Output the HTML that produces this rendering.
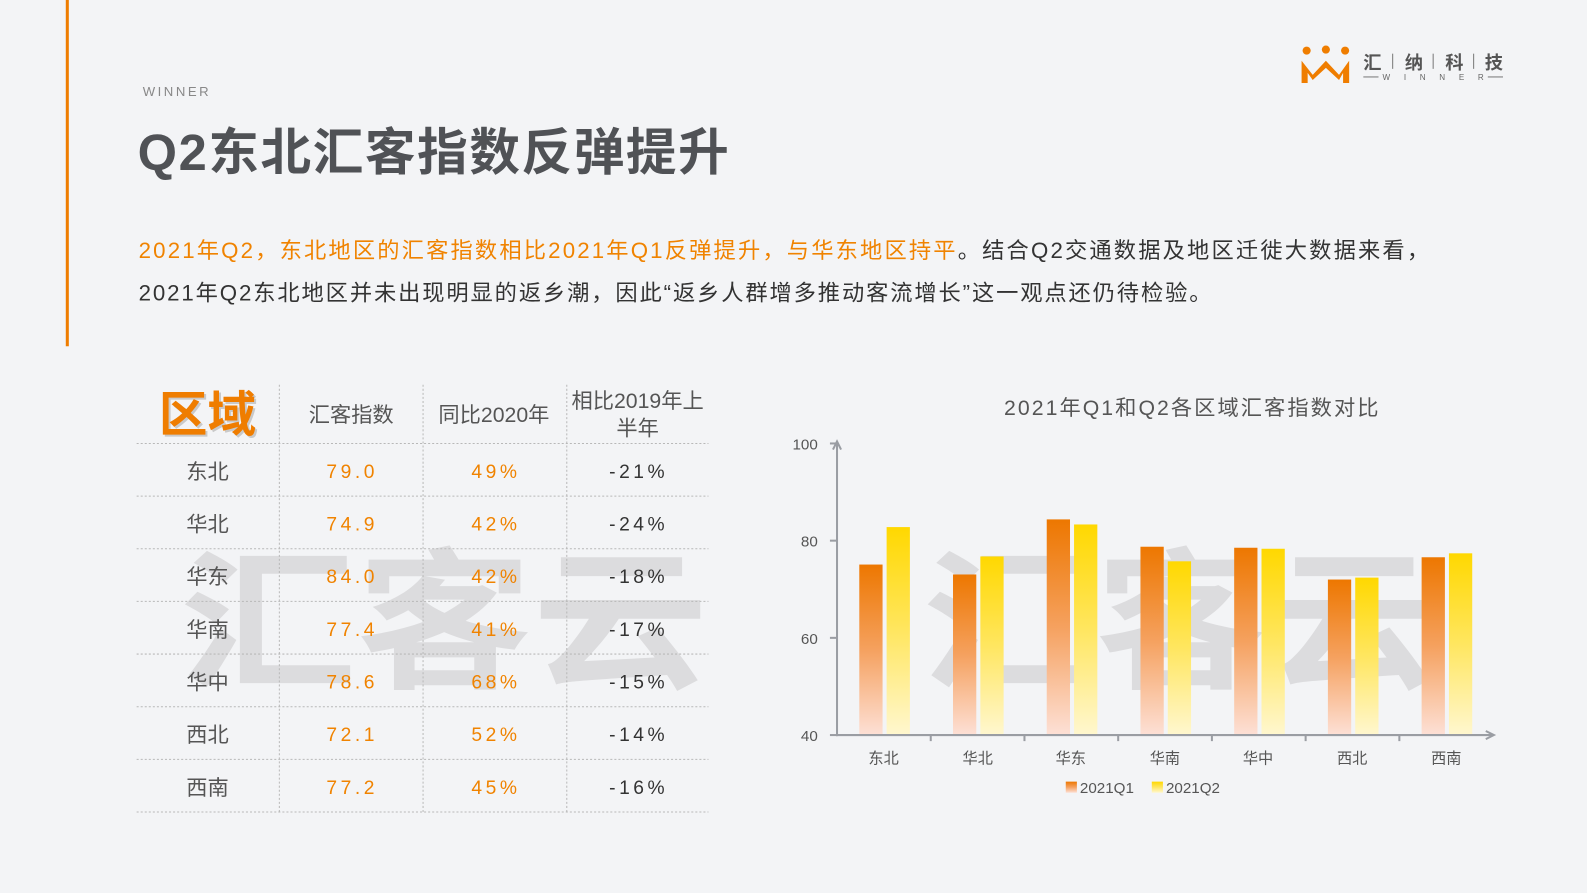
<!DOCTYPE html>
<html><head><meta charset="utf-8"><style>
html,body{margin:0;padding:0;background:#f3f4f6;}
svg{display:block}
text{font-family:"Liberation Sans","Noto Sans CJK SC",sans-serif;}
</style></head><body>
<svg width="1587" height="893" viewBox="0 0 1568 882" preserveAspectRatio="none" xmlns="http://www.w3.org/2000/svg">
<defs>
<linearGradient id="g1" x1="0" y1="0" x2="0" y2="1"><stop offset="0" stop-color="#ed7700"/><stop offset="0.5" stop-color="#f5a15f"/><stop offset="1" stop-color="#fde0d6"/></linearGradient>
<linearGradient id="g2" x1="0" y1="0" x2="0" y2="1"><stop offset="0" stop-color="#ffd800"/><stop offset="0.5" stop-color="#ffe660"/><stop offset="1" stop-color="#fff7cf"/></linearGradient>
</defs>
<rect width="1568" height="882" fill="#f3f4f6"/>
<rect x="65" y="0" width="3" height="342" fill="#ef7d00"/>
<text x="141" y="95" font-size="13" fill="#888" letter-spacing="2.5">WINNER</text>
<text x="136" y="168" font-size="50" font-weight="bold" fill="#505256" textLength="584" lengthAdjust="spacing">Q2东北汇客指数反弹提升</text>
<text x="137" y="255" font-size="22" fill="#f08300" textLength="1275" lengthAdjust="spacing">2021年Q2，东北地区的汇客指数相比2021年Q1反弹提升，与华东地区持平<tspan fill="#333">。结合Q2交通数据及地区迁徙大数据来看，</tspan></text>
<text x="137" y="297" font-size="22" fill="#333" textLength="1060" lengthAdjust="spacing">2021年Q2东北地区并未出现明显的返乡潮，因此“返乡人群增多推动客流增长”这一观点还仍待检验。</text>
<!-- logo -->
<g fill="#ef7d00">
<circle cx="1291" cy="50" r="4"/><circle cx="1310" cy="49" r="4"/><circle cx="1329" cy="50" r="4"/>
<path d="M1286 82 V60 L1297 74 L1310 60 L1323 74 L1333 60 V82 H1327 V72 L1323 79 L1310 67 L1297 79 L1292 72 V82 Z"/>
</g>
<text x="1347" y="68" font-size="18" font-weight="bold" fill="#555">汇</text>
<text x="1388" y="68" font-size="18" font-weight="bold" fill="#555">纳</text>
<text x="1428" y="68" font-size="18" font-weight="bold" fill="#555">科</text>
<text x="1467" y="68" font-size="18" font-weight="bold" fill="#555">技</text>
<g stroke="#777" stroke-width="1"><line x1="1376" y1="53" x2="1376" y2="68"/><line x1="1416" y1="53" x2="1416" y2="68"/><line x1="1456" y1="53" x2="1456" y2="68"/>
<line x1="1347" y1="76" x2="1362" y2="76"/><line x1="1470" y1="76" x2="1485" y2="76"/></g>
<text x="1366" y="79" font-size="8" fill="#666" textLength="100" lengthAdjust="spacing">W I N N E R</text>
<!-- watermarks -->
<g fill="#dcdcde" font-weight="bold" font-size="150">
<text x="178" y="668" textLength="522" lengthAdjust="spacingAndGlyphs">汇客云</text>
<text x="912" y="668" textLength="510" lengthAdjust="spacingAndGlyphs">汇客云</text>
</g>
<!-- table -->
<g stroke="#b8b8b8" stroke-width="1" stroke-dasharray="2,2">
<line x1="276" y1="380" x2="276" y2="802"/><line x1="418" y1="380" x2="418" y2="802"/><line x1="560" y1="380" x2="560" y2="802"/>
<line x1="135" y1="438" x2="700" y2="438"/><line x1="135" y1="490" x2="700" y2="490"/><line x1="135" y1="542" x2="700" y2="542"/><line x1="135" y1="594" x2="700" y2="594"/><line x1="135" y1="646" x2="700" y2="646"/><line x1="135" y1="698" x2="700" y2="698"/><line x1="135" y1="750" x2="700" y2="750"/><line x1="135" y1="802" x2="700" y2="802"/>
</g>
<text x="207" y="428" font-size="48" font-weight="bold" fill="#c9c9c9" text-anchor="middle">区域</text>
<text x="205" y="426" font-size="48" font-weight="bold" fill="#ef7d00" text-anchor="middle">区域</text>
<g font-size="21" fill="#555" text-anchor="middle">
<text x="347" y="417">汇客指数</text><text x="488" y="417">同比2020年</text>
<text x="630" y="403">相比2019年上</text><text x="630" y="430">半年</text>
</g>
<g font-size="21" fill="#555" text-anchor="middle">
<text x="205" y="473">东北</text><text x="205" y="525">华北</text><text x="205" y="577">华东</text><text x="205" y="629">华南</text><text x="205" y="681">华中</text><text x="205" y="733">西北</text><text x="205" y="785">西南</text>
</g>
<g font-size="19" fill="#f08300" text-anchor="middle" letter-spacing="3.5">
<text x="348" y="472">79.0</text><text x="348" y="524">74.9</text><text x="348" y="576">84.0</text><text x="348" y="628">77.4</text><text x="348" y="680">78.6</text><text x="348" y="732">72.1</text><text x="348" y="784">77.2</text>
<text x="490" y="472">49%</text><text x="490" y="524">42%</text><text x="490" y="576">42%</text><text x="490" y="628">41%</text><text x="490" y="680">68%</text><text x="490" y="732">52%</text><text x="490" y="784">45%</text>
</g>
<g font-size="19" fill="#333" text-anchor="middle" letter-spacing="3.5">
<text x="631" y="472">-21%</text><text x="631" y="524">-24%</text><text x="631" y="576">-18%</text><text x="631" y="628">-17%</text><text x="631" y="680">-15%</text><text x="631" y="732">-14%</text><text x="631" y="784">-16%</text>
</g>
<!-- chart -->
<text x="1177" y="410" font-size="21" fill="#555" text-anchor="middle" textLength="370" lengthAdjust="spacing">2021年Q1和Q2各区域汇客指数对比</text>
<g font-size="15" fill="#555" text-anchor="end">
<text x="808" y="444">100</text><text x="808" y="540">80</text><text x="808" y="636">60</text><text x="808" y="732">40</text>
</g>
<g id="bars">
<rect x="849" y="557.6" width="23" height="168.4" fill="url(#g1)"/><rect x="876" y="520.6" width="23" height="205.4" fill="url(#g2)"/>
<rect x="941.6" y="567.4" width="23" height="158.6" fill="url(#g1)"/><rect x="968.6" y="549.6" width="23" height="176.4" fill="url(#g2)"/>
<rect x="1034.2" y="513" width="23" height="213" fill="url(#g1)"/><rect x="1061.2" y="518" width="23" height="208" fill="url(#g2)"/>
<rect x="1126.8" y="540" width="23" height="186" fill="url(#g1)"/><rect x="1153.8" y="554.4" width="23" height="171.6" fill="url(#g2)"/>
<rect x="1219.4" y="541" width="23" height="185" fill="url(#g1)"/><rect x="1246.4" y="542" width="23" height="184" fill="url(#g2)"/>
<rect x="1312" y="572.4" width="23" height="153.6" fill="url(#g1)"/><rect x="1339" y="570.5" width="23" height="155.5" fill="url(#g2)"/>
<rect x="1404.6" y="550.4" width="23" height="175.6" fill="url(#g1)"/><rect x="1431.6" y="546.5" width="23" height="179.5" fill="url(#g2)"/>
</g>
<g stroke="#9a9da3" stroke-width="2" fill="none">
<line x1="827" y1="438" x2="827" y2="727"/>
<line x1="826" y1="726" x2="1474" y2="726"/>
<line x1="820" y1="438" x2="827" y2="438"/><line x1="820" y1="534" x2="827" y2="534"/><line x1="820" y1="630" x2="827" y2="630"/><line x1="820" y1="726" x2="827" y2="726"/>
<line x1="919.6" y1="726" x2="919.6" y2="732"/><line x1="1012.2" y1="726" x2="1012.2" y2="732"/><line x1="1104.8" y1="726" x2="1104.8" y2="732"/><line x1="1197.4" y1="726" x2="1197.4" y2="732"/><line x1="1290" y1="726" x2="1290" y2="732"/><line x1="1382.6" y1="726" x2="1382.6" y2="732"/>
<path d="M823 444 L827 436 L831 444"/><path d="M1468 722 L1476 726 L1468 730"/>
</g>
<g font-size="15" fill="#555" text-anchor="middle">
<text x="873" y="754">东北</text><text x="966" y="754">华北</text><text x="1058" y="754">华东</text><text x="1151" y="754">华南</text><text x="1243" y="754">华中</text><text x="1336" y="754">西北</text><text x="1429" y="754">西南</text>
</g>
<rect x="1053" y="772" width="11" height="11" fill="url(#g1)"/>
<text x="1067" y="783" font-size="15" fill="#555">2021Q1</text>
<rect x="1138" y="772" width="11" height="11" fill="url(#g2)"/>
<text x="1152" y="783" font-size="15" fill="#555">2021Q2</text>
</svg>
</body></html>
